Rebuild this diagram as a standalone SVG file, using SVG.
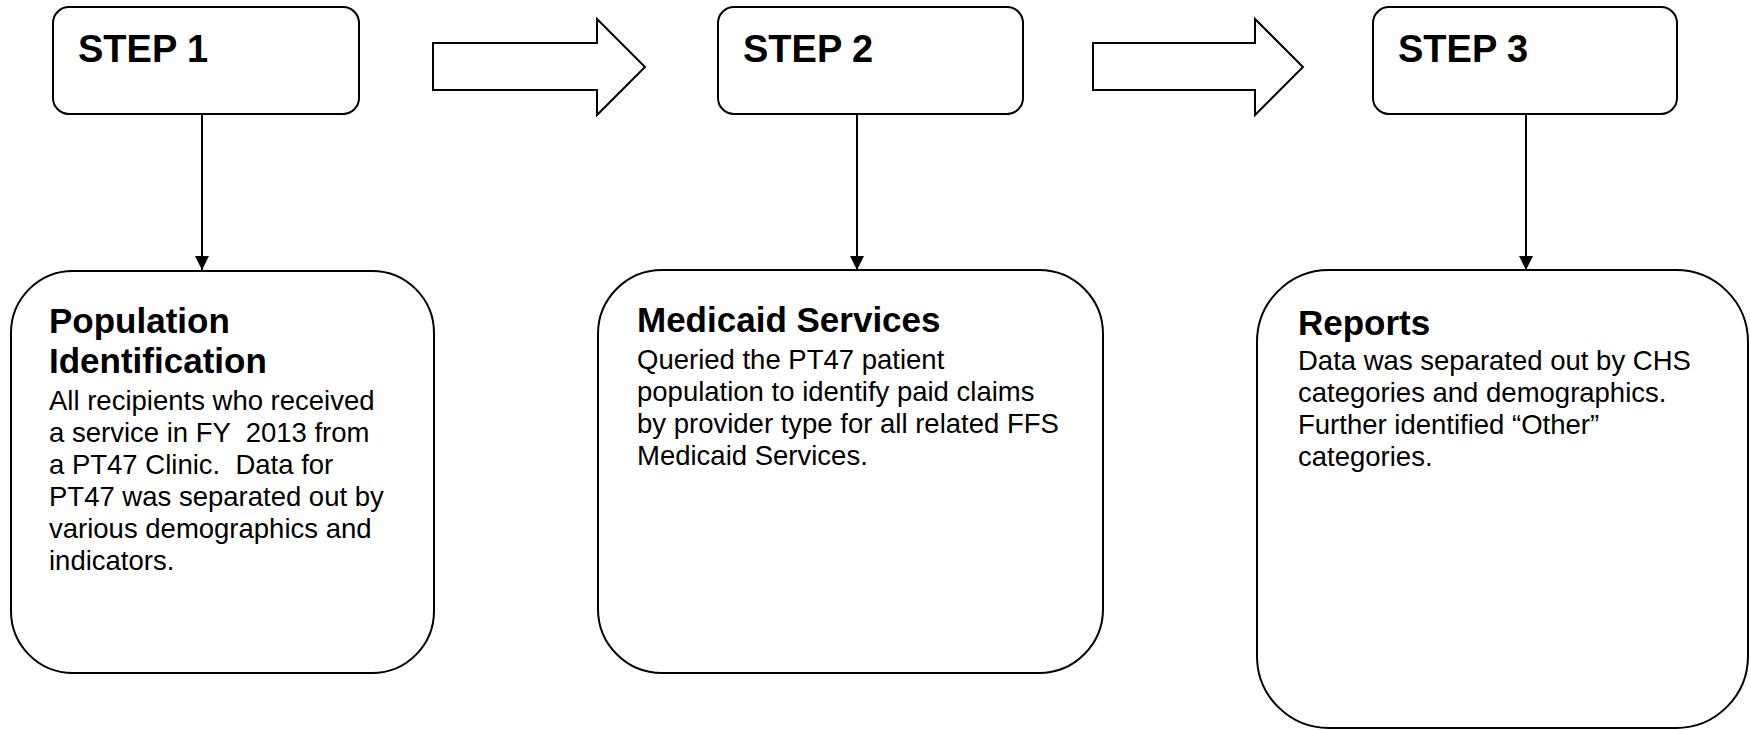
<svg xmlns="http://www.w3.org/2000/svg" width="1750" height="730" viewBox="0 0 1750 730">
<style>
.box{fill:#fff;stroke:#000;stroke-width:2}
.blk{fill:#fff;stroke:#000;stroke-width:2;stroke-linejoin:miter}
.step{font-family:"Liberation Sans",Arial,sans-serif;font-weight:bold;font-size:38px;fill:#000}
.head{font-family:"Liberation Sans",Arial,sans-serif;font-weight:bold;font-size:35px;fill:#000}
.body{font-family:"Liberation Sans",Arial,sans-serif;font-size:27.5px;fill:#000;white-space:pre}
.con{stroke:#000;stroke-width:2;fill:none}
</style>
<defs>
<marker id="ah" viewBox="0 0 14 14" refX="14" refY="7" markerWidth="14" markerHeight="14" markerUnits="userSpaceOnUse" orient="auto">
<path d="M0,0 L14,7 L0,14 Z" fill="#000"/>
</marker>
</defs>
<rect width="1750" height="730" fill="#fff"/>
<g id="step1"><rect class="box" x="53" y="7" width="306" height="107" rx="16"/><text class="step" x="78" y="62">STEP 1</text></g>
<g id="step2"><rect class="box" x="718" y="7" width="305" height="107" rx="16"/><text class="step" x="743" y="62">STEP 2</text></g>
<g id="step3"><rect class="box" x="1373" y="7" width="304" height="107" rx="16"/><text class="step" x="1398" y="62">STEP 3</text></g>
<g id="arrow1"><path class="blk" d="M433,43 H597 V19 L645,67 L597,115 V90 H433 Z"/></g>
<g id="arrow2"><path class="blk" d="M1093,43 H1255 V19 L1303,67 L1255,115 V90 H1093 Z"/></g>
<g id="box1"><rect class="box" x="11" y="271" width="423" height="402" rx="62"/>
<text class="head" x="49"><tspan x="49" y="333">Population</tspan><tspan x="49" y="373">Identification</tspan></text>
<text class="body" xml:space="preserve"><tspan x="49" y="410">All recipients who received</tspan><tspan x="49" y="442">a service in FY  2013 from</tspan><tspan x="49" y="474">a PT47 Clinic.  Data for</tspan><tspan x="49" y="506">PT47 was separated out by</tspan><tspan x="49" y="538">various demographics and</tspan><tspan x="49" y="570">indicators.</tspan></text></g>
<g id="box2"><rect class="box" x="598" y="270" width="505" height="403" rx="64"/>
<text class="head" x="637" y="332">Medicaid Services</text>
<text class="body"><tspan x="637" y="369">Queried the PT47 patient</tspan><tspan x="637" y="401">population to identify paid claims</tspan><tspan x="637" y="433">by provider type for all related FFS</tspan><tspan x="637" y="465">Medicaid Services.</tspan></text></g>
<g id="box3"><rect class="box" x="1257" y="270" width="491" height="458" rx="72"/>
<text class="head" x="1298" y="335">Reports</text>
<text class="body"><tspan x="1298" y="370">Data was separated out by CHS</tspan><tspan x="1298" y="402">categories and demographics.</tspan><tspan x="1298" y="434">Further identified “Other”</tspan><tspan x="1298" y="466">categories.</tspan></text></g>
<g id="connectors">
<line class="con" x1="202" y1="114" x2="202" y2="270" marker-end="url(#ah)"/>
<line class="con" x1="857" y1="114" x2="857" y2="270" marker-end="url(#ah)"/>
<line class="con" x1="1526" y1="114" x2="1526" y2="270" marker-end="url(#ah)"/>
</g>
</svg>
